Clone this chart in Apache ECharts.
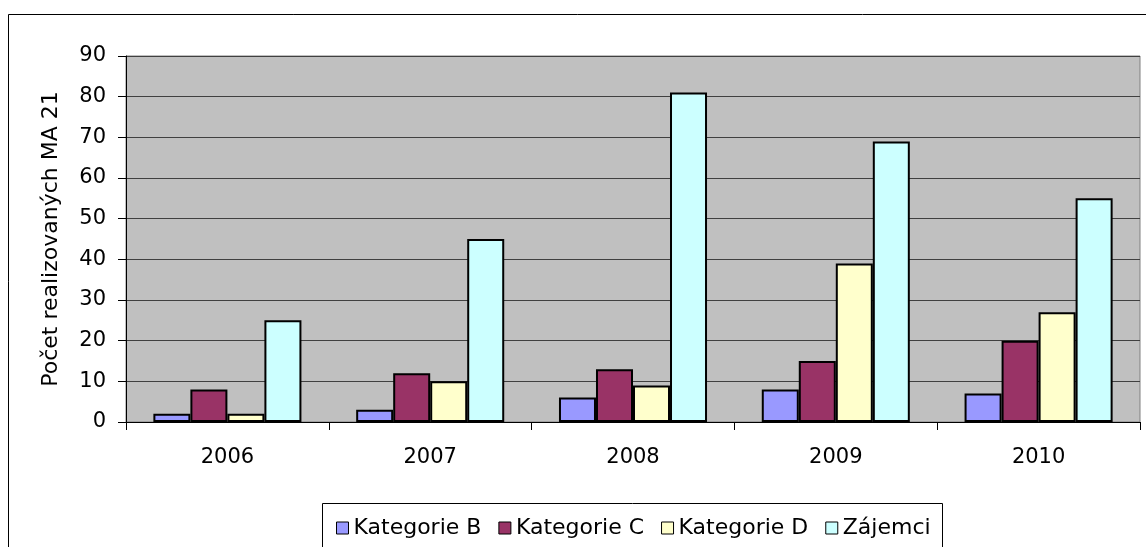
<!DOCTYPE html>
<html>
<head>
<meta charset="utf-8">
<script src="https://cdn.jsdelivr.net/npm/echarts@6/dist/echarts.min.js"></script>
<style>
html,body{margin:0;padding:0;background:#fff;}
#c{width:1146px;height:547px;}
</style>
</head>
<body>
<div id="c"></div>
<script>
var categories = ['2006', '2007', '2008', '2009', '2010'];
var seriesNames = ['Kategorie B', 'Kategorie C', 'Kategorie D', 'Zájemci'];
var kategorieB = [2, 3, 6, 8, 7];
var kategorieC = [8, 12, 13, 15, 20];
var kategorieD = [2, 10, 9, 39, 27];
var zajemci = [25, 45, 81, 69, 55];
var yTicks = { min: 0, max: 90, interval: 10 };
var yName = 'Počet realizovaných MA 21';

var colors = ['#9999FF', '#993366', '#FFFFCC', '#CCFFFF'];
var values = [kategorieB, kategorieC, kategorieD, zajemci];
var FONT = '"DejaVu Sans", "Liberation Sans", Arial, sans-serif';

var chart = echarts.init(document.getElementById('c'), null, { renderer: 'canvas' });
chart.setOption({
  animation: false,
  backgroundColor: '#ffffff',
  textStyle: { fontFamily: FONT, color: '#000' },
  graphic: [
    { type: 'rect', shape: { x: 8.5, y: 14.5, width: 1160, height: 560 }, style: { fill: 'none', stroke: '#000', lineWidth: 1 }, silent: true, z: -1 },
    { type: 'rect', shape: { x: 322.5, y: 503.5, width: 620, height: 80 }, style: { fill: 'none', stroke: '#000', lineWidth: 1 }, silent: true, z: -1 }
  ],
  grid: {
    left: 126, right: 6, top: 56, bottom: 125,
    show: true, backgroundColor: '#C0C0C0', borderColor: '#808080', borderWidth: 1
  },
  legend: {
    data: seriesNames,
    left: 331, top: 512,
    itemWidth: 12, itemHeight: 12, itemGap: 17,
    icon: 'rect',
    textStyle: { fontFamily: FONT, fontSize: 22, color: '#000' },
    itemStyle: { borderColor: '#000', borderWidth: 1 }
  },
  xAxis: {
    type: 'category',
    data: categories,
    axisLine: { lineStyle: { color: '#000', width: 1 } },
    axisTick: { show: true, length: 8, lineStyle: { color: '#000' } },
    axisLabel: { fontFamily: FONT, fontSize: 21, color: '#000', margin: 25 },
    splitLine: { show: false }
  },
  yAxis: {
    type: 'value',
    min: yTicks.min, max: yTicks.max, interval: yTicks.interval,
    name: yName,
    nameLocation: 'middle',
    nameGap: 64,
    nameTextStyle: { fontFamily: FONT, fontSize: 22, color: '#000' },
    axisLine: { show: true, lineStyle: { color: '#000', width: 1 } },
    axisTick: { show: true, length: 8, lineStyle: { color: '#000' } },
    axisLabel: { fontFamily: FONT, fontSize: 21, color: '#000', margin: 20 },
    splitLine: { show: true, lineStyle: { color: '#404040', width: 1.2 } }
  },
  series: seriesNames.map(function (n, i) {
    return {
      name: n,
      type: 'bar',
      data: values[i],
      barGap: '0%',
      barCategoryGap: '27%',
      itemStyle: { color: colors[i], borderColor: '#000', borderWidth: 2 }
    };
  })
});
</script>
</body>
</html>
